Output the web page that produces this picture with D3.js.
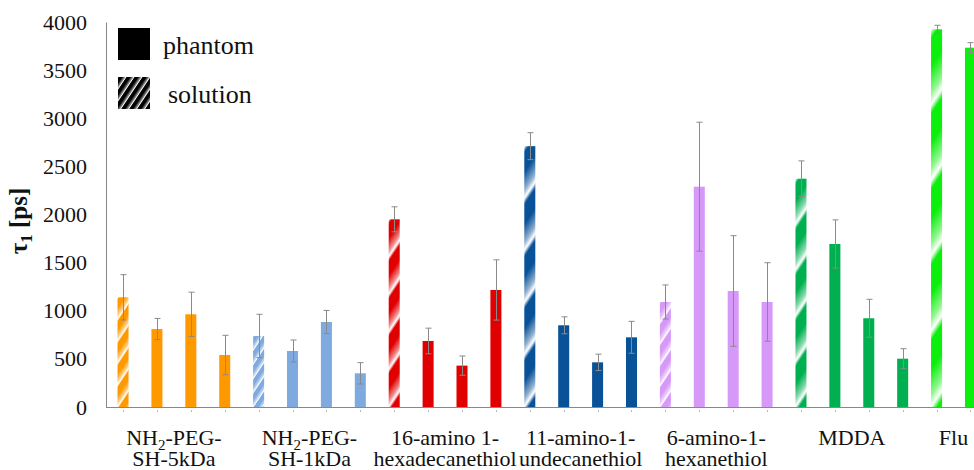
<!DOCTYPE html>
<html>
<head>
<meta charset="utf-8">
<script src="https://cdn.jsdelivr.net/npm/d3@7"></script>
</head>
<body style="margin:0; background:#fff">
<svg id="chart"></svg>
<script>
// group labels (two lines, "_2" marks a subscript)
const groupLine1 = ["NH_2-PEG-", "NH_2-PEG-", "16-amino 1-", "11-amino-1-", "6-amino-1-", "MDDA", "Flu"];
const groupLine2 = ["SH-5kDa", "SH-1kDa", "hexadecanethiol", "undecanethiol", "hexanethiol", "", ""];
const groupColors = ["#ff9900", "#7eaadf", "#e00000", "#0a5298", "#d799f7", "#00b050", "#0cee0c"];

// one entry per bar
const barGroup = [0,0,0,0, 1,1,1,1, 2,2,2,2, 3,3,3,3, 4,4,4,4, 5,5,5,5, 6,6];
const barType  = ["solution","phantom","phantom","phantom",
                  "solution","phantom","phantom","phantom",
                  "solution","phantom","phantom","phantom",
                  "solution","phantom","phantom","phantom",
                  "solution","phantom","phantom","phantom",
                  "solution","phantom","phantom","phantom",
                  "solution","phantom"];
const tau = [1140, 810, 963, 540,  738, 582, 883, 350,  1950, 686, 430, 1216,
             2710, 849, 464, 724,  1091, 2289, 1205, 1091,  2372, 1694, 922, 502,
             3924, 3733];
const tauErr = [235, 110, 230, 205,  225, 114, 120, 111,  130, 133, 100, 313,
                140, 88, 85, 166,  177, 670, 575, 408,  185, 250, 197, 104,
                42, 53];
const yTicks = [0, 500, 1000, 1500, 2000, 2500, 3000, 3500, 4000];
const legendItems = ["phantom", "solution"];

const svgWidth = 974, svgHeight = 470;
const axisColor = "#888";
const serif = "Liberation Serif";

const svg = d3.select("#chart")
  .attr("width", svgWidth)
  .attr("height", svgHeight);
const defs = svg.append("defs");

const x = d3.scaleBand()
  .domain(d3.range(tau.length))
  .range([106, 987.5])
  .paddingInner(0.675)
  .paddingOuter(0.34);
const y = d3.scaleLinear().domain([0, 4000]).range([407, 22]);

// diagonal gradient stripes ("/"), repeating every `period` px vertically
const stripe = (id, color, x0, y0, period) => {
  const light = d3.interpolateRgb(color, "#fff")(0.55);
  const g = defs.append("linearGradient")
    .attr("id", id)
    .attr("gradientUnits", "userSpaceOnUse")
    .attr("spreadMethod", "repeat")
    .attr("x1", x0).attr("y1", y0)
    .attr("x2", x0 + 0.4615 * period).attr("y2", y0 + 0.3077 * period);
  [[0, "#fff"], [0.12, color], [0.5, color], [0.85, light], [1, "#fff"]]
    .forEach(s => g.append("stop").attr("offset", s[0]).attr("stop-color", s[1]));
  return "url(#" + id + ")";
};

// bars
svg.append("g").selectAll("rect")
  .data(tau)
  .join("rect")
  .attr("x", (d, i) => x(i))
  .attr("y", d => y(d))
  .attr("width", x.bandwidth())
  .attr("height", d => y(0) - y(d))
  .attr("fill", (d, i) => {
    const c = groupColors[barGroup[i]];
    if (barType[i] == "phantom") return c;
    return stripe("st" + i, c, x(i), y(d), (y(0) - y(d)) / 5);
  });

// error bars
const eg = svg.append("g")
  .attr("stroke", "#8a8a8a")
  .attr("stroke-width", 1);
tau.forEach((d, i) => {
  const cx = Math.round(x(i) + x.bandwidth() / 2) + 0.5;
  const top = y(d + tauErr[i]), bot = y(d - tauErr[i]);
  eg.append("line").attr("x1", cx).attr("x2", cx).attr("y1", top).attr("y2", bot);
  eg.append("line").attr("x1", cx - 3).attr("x2", cx + 3).attr("y1", top).attr("y2", top);
  eg.append("line").attr("x1", cx - 3).attr("x2", cx + 3).attr("y1", bot).attr("y2", bot);
});

// y axis
const yAxis = svg.append("g")
  .attr("transform", "translate(106,0)")
  .call(d3.axisLeft(y).tickValues(yTicks).tickFormat(d3.format("d"))
    .tickSize(0).tickPadding(19));
yAxis.attr("font-family", serif).attr("font-size", 22);
yAxis.select(".domain").attr("stroke", axisColor);
yAxis.selectAll("text").attr("fill", "#111").attr("font-family", serif);

// x axis line and tiny tick marks
svg.append("line")
  .attr("x1", 106).attr("x2", svgWidth)
  .attr("y1", y(0) + 0.5).attr("y2", y(0) + 0.5)
  .attr("stroke", axisColor);
svg.append("g").selectAll("line")
  .data(tau)
  .join("line")
  .attr("x1", (d, i) => Math.round(x(i) + x.bandwidth() / 2) + 0.5)
  .attr("x2", (d, i) => Math.round(x(i) + x.bandwidth() / 2) + 0.5)
  .attr("y1", 410).attr("y2", 412)
  .attr("stroke", "#bbb");

// group labels
const addText = (sel, str) => {
  let shift = 0;
  str.split(/(_\d)/).forEach(part => {
    if (!part) return;
    if (part[0] == "_") {
      sel.append("tspan").attr("font-size", 15).attr("dy", 5).text(part.slice(1));
      shift = -5;
    } else {
      sel.append("tspan").attr("dy", shift).text(part);
      shift = 0;
    }
  });
};
groupLine1.forEach((l1, gi) => {
  const idx = d3.range(tau.length).filter(i => barGroup[i] == gi);
  const cx = d3.mean(idx, i => x(i) + x.bandwidth() / 2);
  const t1 = svg.append("text")
    .attr("x", cx).attr("y", 445)
    .attr("text-anchor", "middle")
    .attr("font-family", serif)
    .attr("font-size", 22)
    .attr("fill", "#111");
  addText(t1, l1);
  if (groupLine2[gi]) {
    svg.append("text")
      .attr("x", cx).attr("y", 466)
      .attr("text-anchor", "middle")
      .attr("font-family", serif)
      .attr("font-size", 22)
      .attr("fill", "#111")
      .text(groupLine2[gi]);
  }
});

// y axis title
const yt = svg.append("text")
  .attr("transform", "translate(27,221) rotate(-90)")
  .attr("text-anchor", "middle")
  .attr("font-family", serif)
  .attr("font-size", 25)
  .attr("font-weight", "bold")
  .attr("fill", "#111");
yt.append("tspan").text("τ");
yt.append("tspan").attr("font-size", 17).attr("dy", 5).text("1");
yt.append("tspan").attr("dy", -5).text(" [ps]");

// legend
const legend = svg.append("g");
legendItems.forEach((name, i) => {
  const ly = 28 + i * 49;
  legend.append("rect")
    .attr("x", 118).attr("y", ly)
    .attr("width", 32).attr("height", 32)
    .attr("fill", name == "phantom" ? "#000" : stripe("legSt", "#000", 118, ly, 12));
  legend.append("text")
    .attr("x", name == "phantom" ? 163 : 168)
    .attr("y", ly + 26)
    .attr("font-family", serif)
    .attr("font-size", 26)
    .attr("fill", "#111")
    .text(name);
});
</script>
</body>
</html>
